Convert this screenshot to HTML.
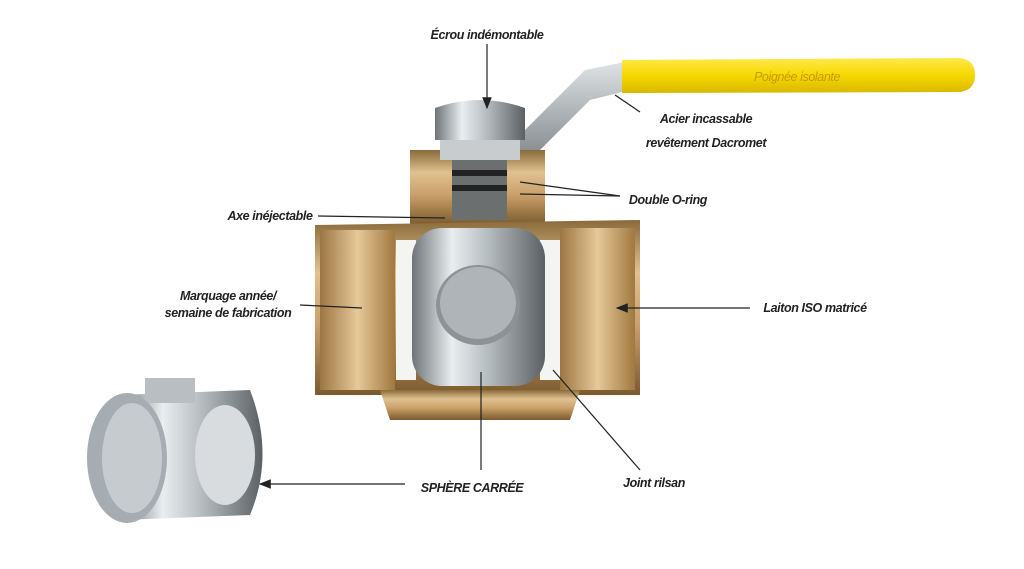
<!DOCTYPE html>
<html><head><meta charset="utf-8"><style>
html,body{margin:0;padding:0;background:#fff;width:1024px;height:569px;overflow:hidden}
text{font-family:"Liberation Sans Narrow","Liberation Sans",sans-serif;font-style:italic;font-weight:bold;font-size:12.5px;letter-spacing:-0.4px;fill:#222}
</style></head><body>
<svg width="1024" height="569" viewBox="0 0 1024 569" xmlns="http://www.w3.org/2000/svg">
<defs>
<linearGradient id="brass" x1="0" y1="0" x2="0" y2="1">
<stop offset="0" stop-color="#8a6a3a"/><stop offset="0.3" stop-color="#e0c190"/><stop offset="0.6" stop-color="#c9a06a"/><stop offset="1" stop-color="#7a5a2e"/></linearGradient>
<linearGradient id="brassH" x1="0" y1="0" x2="1" y2="0">
<stop offset="0" stop-color="#9b7642"/><stop offset="0.5" stop-color="#e6c89a"/><stop offset="1" stop-color="#a0793f"/></linearGradient>
<linearGradient id="chrome" x1="0" y1="0" x2="1" y2="0">
<stop offset="0" stop-color="#6d7377"/><stop offset="0.3" stop-color="#e9eef0"/><stop offset="0.6" stop-color="#b0b7bb"/><stop offset="1" stop-color="#5a6064"/></linearGradient>
<linearGradient id="steel" x1="0" y1="0" x2="0" y2="1">
<stop offset="0" stop-color="#dfe3e5"/><stop offset="1" stop-color="#8a9094"/></linearGradient>
<linearGradient id="yel" x1="0" y1="0" x2="0" y2="1">
<stop offset="0" stop-color="#ffe94a"/><stop offset="0.5" stop-color="#f5d800"/><stop offset="1" stop-color="#d9b800"/></linearGradient>
<marker id="ar" markerWidth="10" markerHeight="8" refX="9" refY="4" orient="auto"><path d="M0,0 L10,4 L0,8 z" fill="#222"/></marker>
</defs>
<path d="M505,150 L540,150 L590,100 L630,90 L625,62 L585,70 L520,135 Z" fill="url(#steel)"/>
<path d="M622,60 L960,58 Q975,60 975,75 Q975,90 960,92 L622,93 Z" fill="url(#yel)"/>
<path d="M410,150 L545,150 L545,225 L410,225 Z" fill="url(#brass)"/>
<rect x="440" y="140" width="80" height="20" fill="#c8ccce"/>
<rect x="452" y="160" width="55" height="60" fill="#6c6f70"/>
<g fill="#222"><rect x="452" y="170" width="55" height="6"/><rect x="452" y="185" width="55" height="6"/></g>
<path d="M435,108 Q480,92 525,108 L525,140 L435,140 Z" fill="url(#chrome)"/>
<path d="M315,225 L640,220 L640,395 L315,395 Z" fill="url(#brass)"/>
<rect x="320" y="230" width="75" height="160" fill="url(#brassH)"/>
<rect x="560" y="228" width="75" height="162" fill="url(#brassH)"/>
<path d="M380,390 L580,390 L570,420 L390,420 Z" fill="url(#brass)"/>
<rect x="396" y="240" width="20" height="140" fill="#f4f4f2"/>
<rect x="540" y="240" width="20" height="140" fill="#f4f4f2"/>
<rect x="412" y="228" width="133" height="158" rx="30" fill="url(#chrome)"/>
<ellipse cx="478" cy="305" rx="42" ry="40" fill="#8c9296"/>
<ellipse cx="478" cy="303" rx="38" ry="36" fill="#aeb4b8"/>
<path d="M120,395 L250,390 Q275,455 250,515 L120,520 Z" fill="url(#chrome)"/>
<rect x="145" y="378" width="50" height="25" fill="#b8bec2"/>
<ellipse cx="127" cy="458" rx="40" ry="65" fill="#a6adb2"/>
<ellipse cx="132" cy="458" rx="30" ry="55" fill="#c6cbcf"/>
<ellipse cx="225" cy="455" rx="30" ry="50" fill="#d8dcdf"/>
<g stroke="#222" stroke-width="1.2" fill="none">
<line x1="487" y1="44" x2="487" y2="108" marker-end="url(#ar)"/>
<line x1="640" y1="112" x2="615" y2="95"/>
<line x1="620" y1="196" x2="520" y2="182"/>
<line x1="620" y1="196" x2="520" y2="194"/>
<line x1="318" y1="216" x2="445" y2="218"/>
<line x1="300" y1="305" x2="362" y2="308"/>
<line x1="750" y1="308" x2="617" y2="308" marker-end="url(#ar)"/>
<line x1="405" y1="484" x2="260" y2="484" marker-end="url(#ar)"/>
<line x1="481" y1="470" x2="481" y2="372"/>
<line x1="640" y1="470" x2="553" y2="370"/>
</g>
<text x="487" y="39" text-anchor="middle">Écrou indémontable</text>
<text x="797" y="81" text-anchor="middle" style="font-weight:normal;fill:#c79a00">Poignée isolante</text>
<text x="706" y="123" text-anchor="middle">Acier incassable</text>
<text x="706" y="147" text-anchor="middle">revêtement Dacromet</text>
<text x="668" y="204" text-anchor="middle">Double O-ring</text>
<text x="270" y="220" text-anchor="middle">Axe inéjectable</text>
<text x="228" y="300" text-anchor="middle">Marquage année/</text>
<text x="228" y="317" text-anchor="middle">semaine de fabrication</text>
<text x="815" y="312" text-anchor="middle">Laiton ISO matricé</text>
<text x="472" y="492" text-anchor="middle">SPHÈRE CARRÉE</text>
<text x="654" y="487" text-anchor="middle">Joint rilsan</text>
</svg>
</body></html>
